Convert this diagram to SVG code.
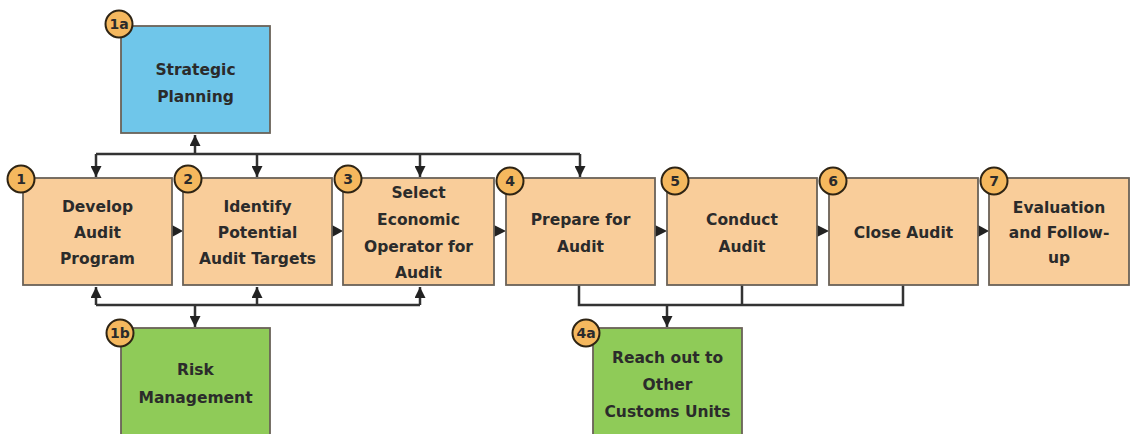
<svg xmlns="http://www.w3.org/2000/svg" width="1130" height="434" viewBox="0 0 1130 434">
<defs>
<style>
.box{stroke:#6a6258;stroke-width:1.8}
.step{fill:#f9cd9a}
.blue{fill:#6fc6ea}
.green{fill:#8fcb58}
.t{font-family:"DejaVu Sans","Liberation Sans",sans-serif;font-size:15.5px;font-weight:bold;fill:#2b2b2b;text-anchor:middle}
.badge{fill:#f5b85e;stroke:#2e2414;stroke-width:2}
.bt{font-family:"DejaVu Sans","Liberation Sans",sans-serif;font-size:14px;font-weight:bold;fill:#2b2b2b;text-anchor:middle}
.ln{fill:none;stroke:#333;stroke-width:2.5}
.ah{fill:#222}
</style>
<marker id="arr" viewBox="0 0 10 10" refX="10" refY="5" markerWidth="4.4" markerHeight="4.4" orient="auto" markerUnits="strokeWidth">
<path d="M0,0 L10,5 L0,10 z" fill="#222"/>
</marker>
</defs>
<rect width="1130" height="434" fill="#ffffff"/>

<g id="connectors">
<path class="ln" d="M96,154 H580"/>
<path class="ln" d="M195,154 V135" marker-end="url(#arr)"/>
<path class="ln" d="M96,154 V177" marker-end="url(#arr)"/>
<path class="ln" d="M257,154 V177" marker-end="url(#arr)"/>
<path class="ln" d="M420,154 V177" marker-end="url(#arr)"/>
<path class="ln" d="M580,154 V177" marker-end="url(#arr)"/>
<path class="ln" d="M96,305 H420"/>
<path class="ln" d="M96,305 V287" marker-end="url(#arr)"/>
<path class="ln" d="M257,305 V287" marker-end="url(#arr)"/>
<path class="ln" d="M420,305 V287" marker-end="url(#arr)"/>
<path class="ln" d="M195,305 V327" marker-end="url(#arr)"/>
<path class="ln" d="M579,285 V305 H903 V285"/>
<path class="ln" d="M742,285 V305"/>
<path class="ln" d="M667,305 V327" marker-end="url(#arr)"/>
<path class="ah" d="M172,225 L183,231 L172,237 z"/>
<path class="ah" d="M332,225 L343,231 L332,237 z"/>
<path class="ah" d="M494,225 L506,231 L494,237 z"/>
<path class="ah" d="M655,225 L667,231 L655,237 z"/>
<path class="ah" d="M817,225 L829,231 L817,237 z"/>
<path class="ah" d="M978,225 L989,231 L978,237 z"/>
</g>

<g id="n1a">
<rect class="box blue" x="121" y="26" width="149" height="107"/>
<text class="t" x="195.5" y="75">Strategic</text>
<text class="t" x="195.5" y="102">Planning</text>
<circle class="badge" cx="119" cy="24" r="13.5"/>
<text class="bt" x="119" y="29">1a</text>
</g>

<g id="n1">
<rect class="box step" x="23" y="178" width="149" height="107"/>
<text class="t" x="97.5" y="212">Develop</text>
<text class="t" x="97.5" y="238">Audit</text>
<text class="t" x="97.5" y="264">Program</text>
<circle class="badge" cx="21" cy="179" r="13.5"/>
<text class="bt" x="21" y="184">1</text>
</g>

<g id="n2">
<rect class="box step" x="183" y="178" width="149" height="107"/>
<text class="t" x="257.5" y="212">Identify</text>
<text class="t" x="257.5" y="238">Potential</text>
<text class="t" x="257.5" y="264">Audit Targets</text>
<circle class="badge" cx="188" cy="179" r="13.5"/>
<text class="bt" x="188" y="184">2</text>
</g>

<g id="n3">
<rect class="box step" x="343" y="178" width="151" height="107"/>
<text class="t" x="418.5" y="198">Select</text>
<text class="t" x="418.5" y="225">Economic</text>
<text class="t" x="418.5" y="252">Operator for</text>
<text class="t" x="418.5" y="278">Audit</text>
<circle class="badge" cx="348" cy="179" r="13.5"/>
<text class="bt" x="348" y="184">3</text>
</g>

<g id="n4">
<rect class="box step" x="506" y="178" width="149" height="107"/>
<text class="t" x="580.5" y="225">Prepare for</text>
<text class="t" x="580.5" y="252">Audit</text>
<circle class="badge" cx="510" cy="181" r="13.5"/>
<text class="bt" x="510" y="186">4</text>
</g>

<g id="n5">
<rect class="box step" x="667" y="178" width="150" height="107"/>
<text class="t" x="742" y="225">Conduct</text>
<text class="t" x="742" y="252">Audit</text>
<circle class="badge" cx="675" cy="181" r="13.5"/>
<text class="bt" x="675" y="186">5</text>
</g>

<g id="n6">
<rect class="box step" x="829" y="178" width="149" height="107"/>
<text class="t" x="903.5" y="238">Close Audit</text>
<circle class="badge" cx="833" cy="181" r="13.5"/>
<text class="bt" x="833" y="186">6</text>
</g>

<g id="n7">
<rect class="box step" x="989" y="178" width="140" height="107"/>
<text class="t" x="1059" y="213">Evaluation</text>
<text class="t" x="1059" y="238">and Follow-</text>
<text class="t" x="1059" y="263">up</text>
<circle class="badge" cx="994" cy="181" r="13.5"/>
<text class="bt" x="994" y="186">7</text>
</g>

<g id="n1b">
<rect class="box green" x="121" y="328" width="149" height="110"/>
<text class="t" x="195.5" y="375">Risk</text>
<text class="t" x="195.5" y="403">Management</text>
<circle class="badge" cx="120" cy="333" r="13.5"/>
<text class="bt" x="120" y="338">1b</text>
</g>

<g id="n4a">
<rect class="box green" x="593" y="328" width="149" height="110"/>
<text class="t" x="667.5" y="363">Reach out to</text>
<text class="t" x="667.5" y="390">Other</text>
<text class="t" x="667.5" y="417">Customs Units</text>
<circle class="badge" cx="586" cy="333" r="13.5"/>
<text class="bt" x="586" y="338">4a</text>
</g>
</svg>
